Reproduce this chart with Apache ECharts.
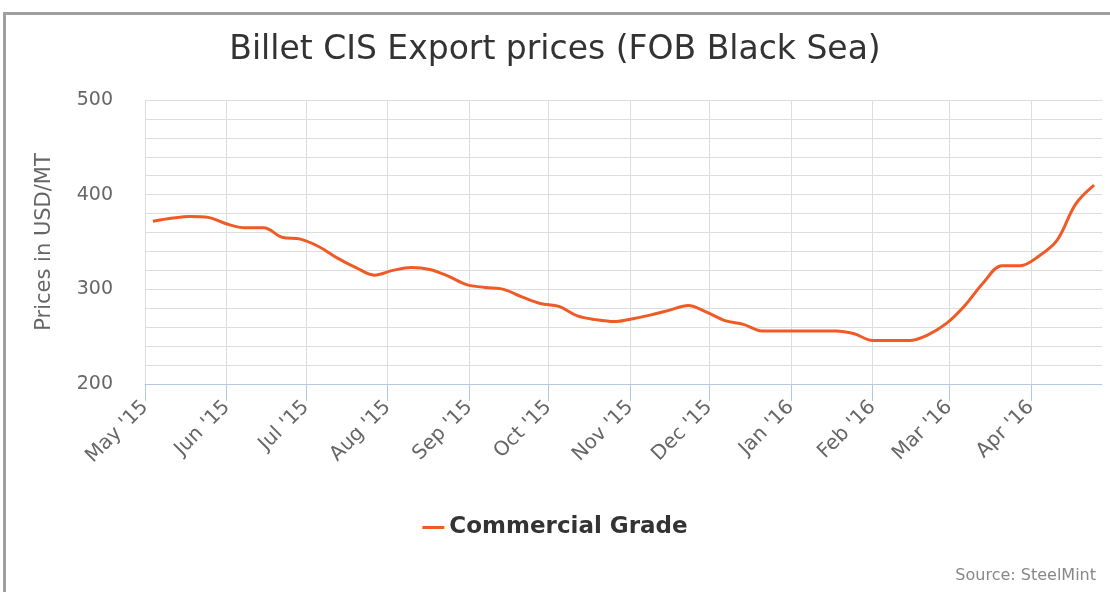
<!DOCTYPE html>
<html>
<head>
<meta charset="utf-8">
<script src="https://cdn.jsdelivr.net/npm/echarts@6/dist/echarts.min.js"></script>
<style>
  html, body { margin: 0; padding: 0; background: #fff; }
  #chart { position: absolute; left: 0; top: 0; width: 1110px; height: 592px; }
  #frame { position: absolute; left: 3px; top: 12px; width: 1200px; height: 700px;
           border-left: 3px solid #a0a0a0; border-top: 3px solid #a0a0a0; pointer-events: none; }
</style>
</head>
<body>
<div id="chart"></div>
<div id="frame"></div>
<script>
// weekly observations (FOB Black Sea, USD/MT)
const weeks = [
  "2015-05-04", "2015-05-11", "2015-05-18", "2015-05-25",
  "2015-06-01", "2015-06-08", "2015-06-15", "2015-06-22", "2015-06-29",
  "2015-07-06", "2015-07-13", "2015-07-20", "2015-07-27",
  "2015-08-03", "2015-08-10", "2015-08-17", "2015-08-24", "2015-08-31",
  "2015-09-07", "2015-09-14", "2015-09-21", "2015-09-28",
  "2015-10-05", "2015-10-12", "2015-10-19", "2015-10-26",
  "2015-11-02", "2015-11-09", "2015-11-16", "2015-11-23", "2015-11-30",
  "2015-12-07", "2015-12-14", "2015-12-21", "2015-12-28",
  "2016-01-04", "2016-01-11", "2016-01-18", "2016-01-25",
  "2016-02-01", "2016-02-08", "2016-02-15", "2016-02-22", "2016-02-29",
  "2016-03-07", "2016-03-14", "2016-03-21", "2016-03-28",
  "2016-04-04", "2016-04-11", "2016-04-18", "2016-04-25"
];
const commercialGrade = [
  372, 375, 377, 376,
  369, 365, 365, 355, 353,
  345, 333, 323, 315,
  320, 323, 321, 314, 305,
  302, 300, 292, 285,
  282, 272, 268, 266,
  269, 273, 278, 283, 276,
  267, 263, 256, 256,
  256, 256, 256, 253,
  246, 246, 246, 252, 264,
  283, 307, 325, 325,
  335, 352, 390, 410
];
// x axis ticks (month starts) and their labels
const monthTicks = [
  "2015-05-01", "2015-06-01", "2015-07-01", "2015-08-01", "2015-09-01", "2015-10-01",
  "2015-11-01", "2015-12-01", "2016-01-01", "2016-02-01", "2016-03-01", "2016-04-01"
];
const monthLabels = [
  "May '15", "Jun '15", "Jul '15", "Aug '15", "Sep '15", "Oct '15",
  "Nov '15", "Dec '15", "Jan '16", "Feb '16", "Mar '16", "Apr '16"
];
const axisStart = "2015-05-01";
const axisEnd = "2016-04-28";

const toTime = s => {
  const p = s.split("-");
  return Date.UTC(+p[0], +p[1] - 1, +p[2]);
};
const tickTimes = monthTicks.map(toTime);

const chart = echarts.init(document.getElementById("chart"));

const option = {
  useUTC: true,
  animation: false,
  textStyle: { fontFamily: "DejaVu Sans" },
  title: [
    {
      text: "Billet CIS Export prices (FOB Black Sea)",
      left: "center",
      top: 29,
      textStyle: { fontFamily: "DejaVu Sans", fontSize: 33, fontWeight: "normal", color: "#333" }
    },
    {
      text: "Source: SteelMint",
      right: 9,
      top: 563,
      textStyle: { fontFamily: "DejaVu Sans", fontSize: 16, fontWeight: "normal", color: "#888" }
    }
  ],
  legend: {
    left: "center",
    top: 511,
    icon: "rect",
    itemWidth: 22,
    itemHeight: 3,
    itemGap: 8,
    textStyle: { fontFamily: "DejaVu Sans", fontSize: 23, fontWeight: "bold", color: "#333" },
    data: ["Commercial Grade"]
  },
  grid: { left: 145, right: 8, top: 100, bottom: 208, containLabel: false },
  xAxis: {
    type: "time",
    min: toTime(axisStart),
    max: toTime(axisEnd),
    minInterval: 28 * 86400000,
    maxInterval: 31 * 86400000,
    axisLine: { lineStyle: { color: "#b4c8de", width: 1 } },
    axisTick: { show: true, length: 17, lineStyle: { color: "#b4c8de", width: 1 } },
    splitLine: { show: true, showMaxLine: false, lineStyle: { color: "#dddddd", width: 1 } },
    axisLabel: {
      rotate: 45,
      margin: 20,
      showMaxLabel: false,
      fontSize: 20,
      color: "#666",
      formatter: v => {
        const i = tickTimes.indexOf(v);
        return i >= 0 ? monthLabels[i] : "";
      }
    }
  },
  yAxis: {
    type: "value",
    min: 200,
    max: 500,
    interval: 100,
    name: "Prices in USD/MT",
    nameLocation: "middle",
    nameGap: 90,
    nameTextStyle: { fontSize: 21, color: "#666" },
    axisLine: { show: false },
    axisTick: { show: false },
    axisLabel: { fontSize: 19, color: "#666", margin: 32 },
    splitLine: { lineStyle: { color: "#dddddd", width: 1 } },
    minorTick: { show: false, splitNumber: 5 },
    minorSplitLine: { show: true, lineStyle: { color: "#dddddd", width: 1 } }
  },
  series: [
    {
      name: "Commercial Grade",
      type: "line",
      smooth: 0.35,
      showSymbol: false,
      lineStyle: { color: "#f05a24", width: 3 },
      itemStyle: { color: "#f05a24" },
      data: weeks.map((w, i) => [toTime(w), commercialGrade[i]])
    }
  ]
};

chart.setOption(option);
</script>
</body>
</html>
